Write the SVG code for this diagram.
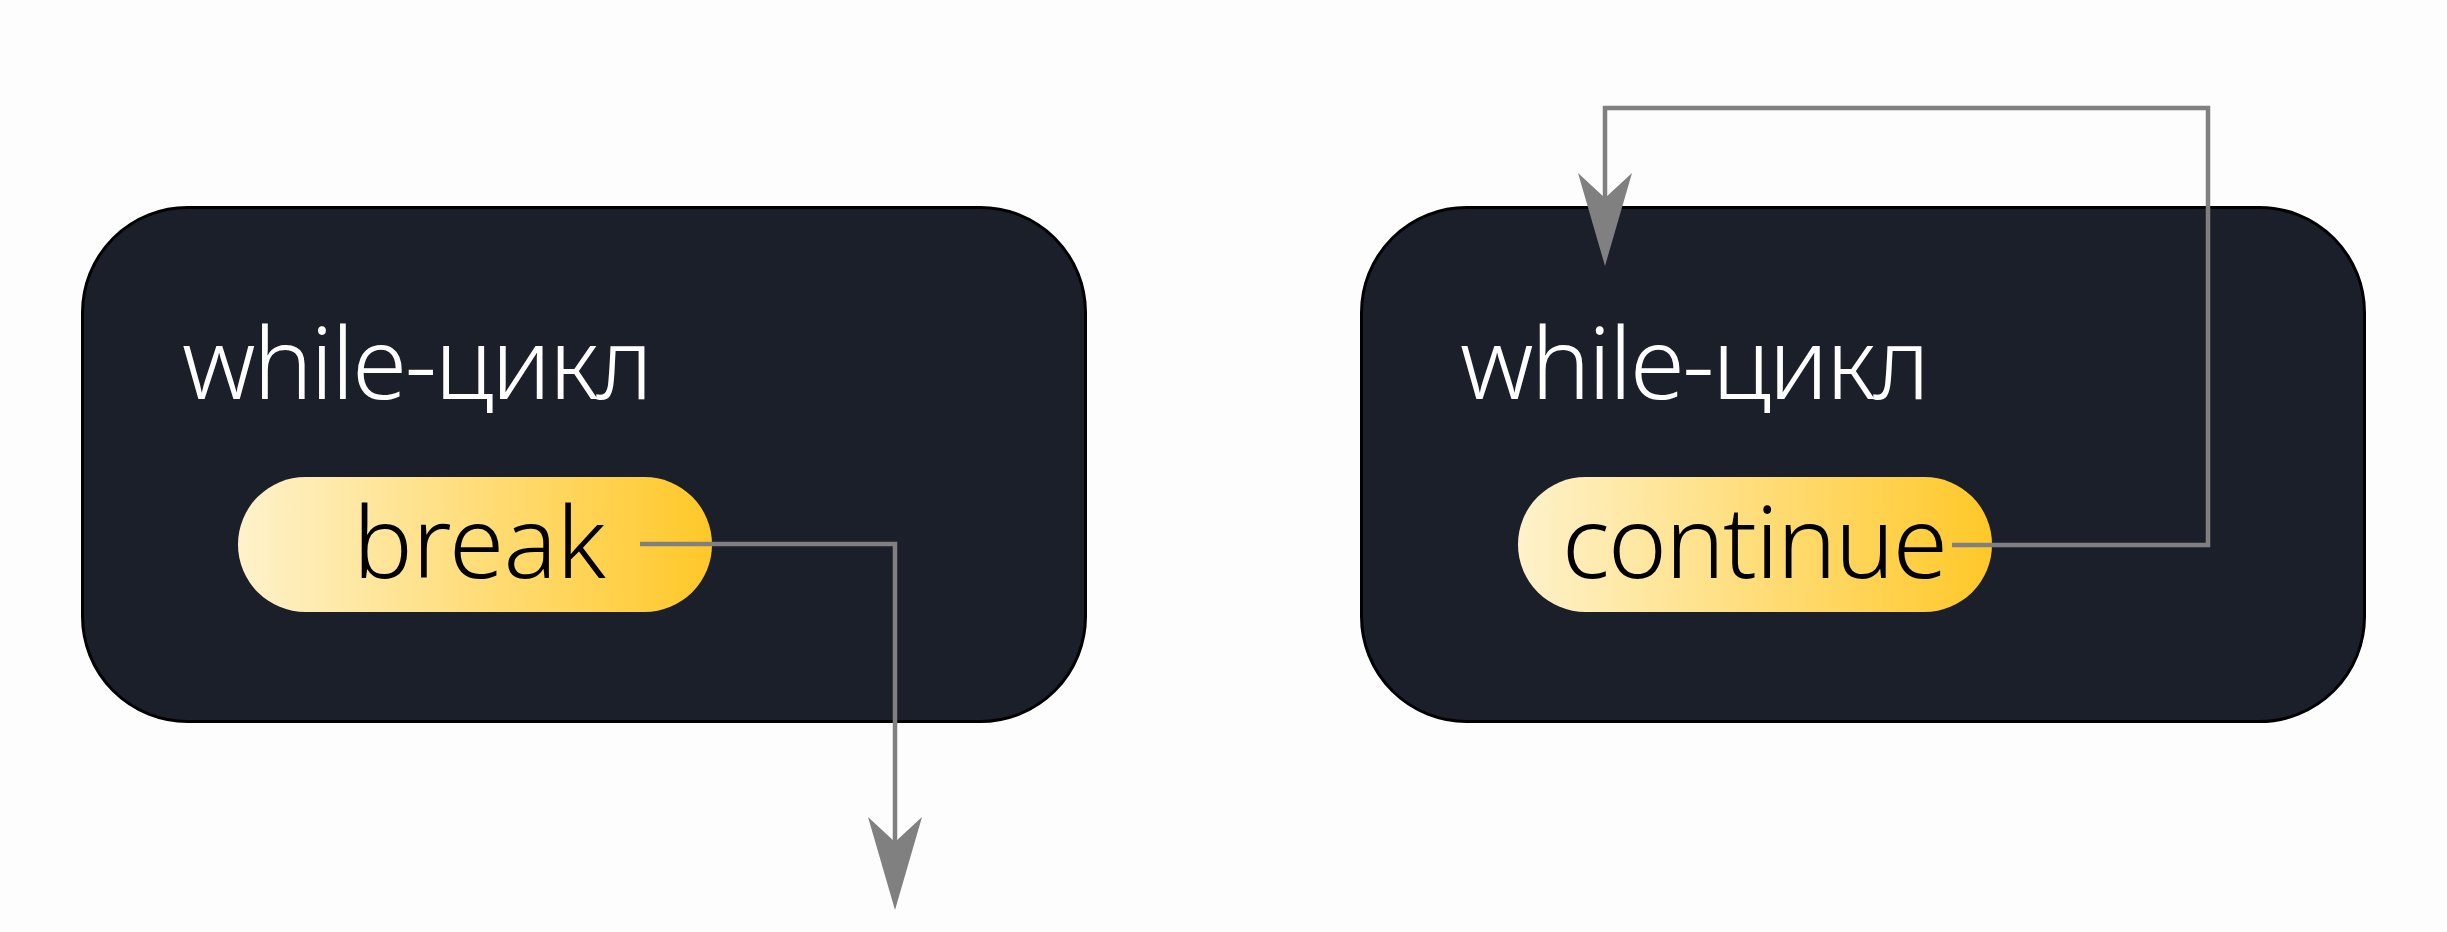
<svg xmlns="http://www.w3.org/2000/svg" width="2447" height="932" viewBox="0 0 2447 932">
  <style>
    .box { fill: #1b1f2a; stroke: #000000; stroke-width: 3; }
    .pill { fill: url(#pillGrad); }
    .title { font-family: "Noto Sans", "DejaVu Sans", sans-serif; font-weight: 300; font-size: 100px; fill: #ffffff; }
    .label { font-family: "Noto Sans", "DejaVu Sans", sans-serif; font-weight: 300; font-size: 100px; fill: #000000; }
    .conn { fill: none; stroke: #808080; stroke-width: 4.5; marker-end: url(#arrow); }
  </style>
  <defs>
    <linearGradient id="pillGrad" x1="0" y1="0" x2="1" y2="0">
      <stop offset="0" stop-color="#fef2cb"/>
      <stop offset="1" stop-color="#ffc829"/>
    </linearGradient>
    <marker id="arrow" markerUnits="userSpaceOnUse" viewBox="-100 -30 100 60" markerWidth="100" markerHeight="60" refX="-68" refY="0" orient="auto" overflow="visible">
      <path d="M0,0 L-93,-27 L-68,0 L-93,27 Z" fill="#808080"/>
    </marker>
  </defs>
  <rect x="0" y="0" width="2447" height="932" fill="#fdfdfd"/>

  <g id="node-break-loop">
    <rect class="box" x="82.5" y="207.5" width="1003" height="514" rx="105" ry="105"/>
    <text class="title" x="182" y="399" textLength="471">while-цикл</text>
  </g>
  <g id="node-break">
    <rect class="pill" x="238" y="477" width="474" height="135" rx="67.5" ry="67.5"/>
    <text class="label" x="353" y="578" textLength="253">break</text>
  </g>

  <g id="node-continue-loop">
    <rect class="box" x="1361.5" y="207.5" width="1003" height="514" rx="105" ry="105"/>
    <text class="title" x="1460" y="399" textLength="470">while-цикл</text>
  </g>
  <g id="node-continue">
    <rect class="pill" x="1518" y="477" width="474" height="135" rx="67.5" ry="67.5"/>
    <text class="label" x="1562" y="578" textLength="386">continue</text>
  </g>

  <g id="connectors">
    <path class="conn" d="M640,544 H895 V842"/>
    <path class="conn" d="M1952,545 H2208 V108 H1605 V198"/>
  </g>
</svg>
